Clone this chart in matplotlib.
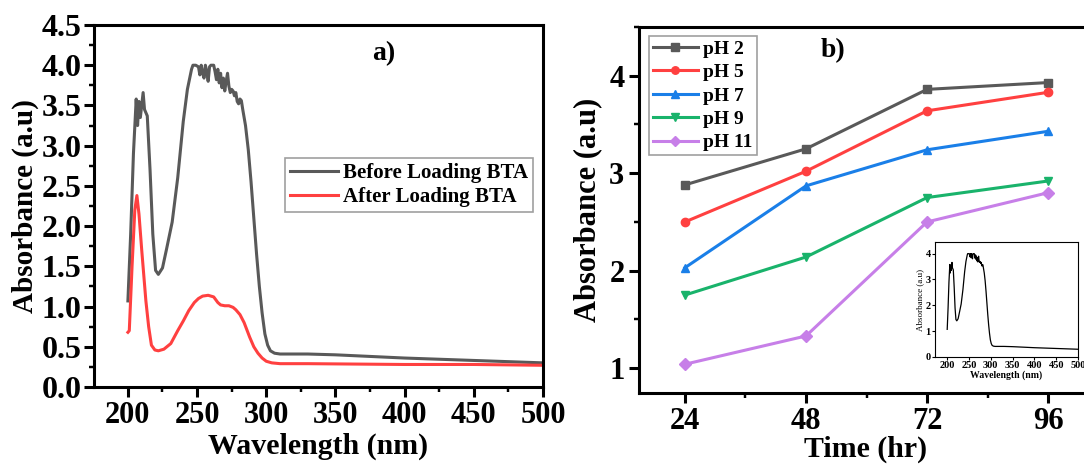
import matplotlib
matplotlib.use("Agg")
import matplotlib.pyplot as plt
from matplotlib.ticker import MultipleLocator

plt.rcParams['font.family'] = ['Liberation Serif', 'DejaVu Serif']
plt.rcParams['font.weight'] = 'bold'

# panel a) spectra
wl_before = [200, 202, 204, 206, 207, 208, 209, 211, 212, 213, 214, 216, 218, 220,
             222, 225, 228, 232, 236, 240, 243, 246, 247, 249, 251, 252, 253, 254,
             255, 256, 257, 258, 259, 260, 262, 263, 264, 265, 266, 267, 268, 269,
             270, 271, 272, 273, 274, 275, 276, 277, 278, 279, 280, 281, 282, 283,
             285, 287, 289, 291, 293, 295, 297, 299, 301, 303, 306, 310, 330, 350,
             400, 450, 500]
abs_before = [1.07, 1.9, 2.9, 3.58, 3.25, 3.55, 3.35, 3.66, 3.45, 3.41, 3.37, 2.7, 1.9, 1.45,
              1.40, 1.48, 1.72, 2.05, 2.6, 3.3, 3.7, 3.95, 4.0, 4.0, 3.98, 3.88, 4.0, 3.9,
              3.84, 4.0, 3.92, 3.80, 3.98, 4.0, 4.0, 3.92, 3.82, 3.95, 3.78, 3.9, 3.72, 3.84,
              3.68, 3.8, 3.9, 3.74, 3.66, 3.7, 3.68, 3.62, 3.66, 3.55, 3.52, 3.58, 3.56, 3.45,
              3.25, 2.95, 2.55, 2.1, 1.65, 1.25, 0.92, 0.66, 0.52, 0.45, 0.42, 0.41, 0.41, 0.40,
              0.36, 0.33, 0.30]

wl_after = [200, 201, 203, 205, 206.5, 208, 210, 213, 215, 217, 219.5, 222, 226, 231,
            236, 240, 244, 248, 251, 254, 258, 262, 265, 267, 270, 273, 276, 278,
            281, 284, 288, 291, 294, 297, 300, 304, 310, 330, 400, 450, 500]
abs_after = [0.68, 0.70, 1.5, 2.2, 2.38, 2.15, 1.7, 1.07, 0.75, 0.52, 0.46, 0.45, 0.47, 0.54,
             0.70, 0.82, 0.95, 1.05, 1.10, 1.13, 1.14, 1.12, 1.05, 1.02, 1.01, 1.01, 0.99, 0.96,
             0.90, 0.80, 0.62, 0.50, 0.42, 0.36, 0.32, 0.30, 0.29, 0.29, 0.28, 0.28, 0.27]

# panel b) absorbance vs time
time_hr = [24, 48, 72, 96]
ph_labels = ['pH 2', 'pH 5', 'pH 7', 'pH 9', 'pH 11']
ph2 = [2.88, 3.25, 3.86, 3.93]
ph5 = [2.50, 3.02, 3.64, 3.83]
ph7 = [2.03, 2.87, 3.24, 3.43]
ph9 = [1.75, 2.14, 2.75, 2.92]
ph11 = [1.04, 1.33, 2.50, 2.80]

W, H = 1084, 467
fig = plt.figure(figsize=(W / 100, H / 100), dpi=100)

def px(l, t, r, b):
    return [l / W, 1 - b / H, (r - l) / W, (b - t) / H]

def style(ax, lw=2.2, size=17, length=7):
    for s in ax.spines.values():
        s.set_linewidth(lw)
    ax.tick_params(which='major', direction='out', length=length, width=lw,
                   labelsize=size, top=False, right=False)
    ax.tick_params(which='minor', direction='out', length=length * 0.55, width=lw * 0.8,
                   top=False, right=False)
    for lab in ax.get_xticklabels() + ax.get_yticklabels():
        lab.set_fontweight('bold')

# ---- a)
ax1 = fig.add_axes(px(94, 25, 543, 387))
ax1.plot(wl_before, abs_before, color='#595959', lw=2.2, label='Before Loading BTA')
ax1.plot(wl_after, abs_after, color='#ff4040', lw=2.2, label='After Loading BTA')
ax1.set_xlim(175.5, 500)
ax1.set_ylim(0, 4.5)
ax1.xaxis.set_minor_locator(MultipleLocator(25))
ax1.yaxis.set_minor_locator(MultipleLocator(0.25))
ax1.set_xticks([200, 250, 300, 350, 400, 450, 500])
ax1.set_yticks([0.0, 0.5, 1.0, 1.5, 2.0, 2.5, 3.0, 3.5, 4.0, 4.5])
ax1.set_yticklabels([f'{v:.1f}' for v in ax1.get_yticks()])
style(ax1, size=22)
ax1.tick_params(axis='x', pad=3)
ax1.tick_params(axis='y', labelsize=23, pad=2)
ax1.set_xlabel('Wavelength (nm)', fontsize=21.5, fontweight='bold', labelpad=2)
ax1.set_ylabel('Absorbance (a.u)', fontsize=21, fontweight='bold', labelpad=2)
ax1.text(385, 4.15, 'a)', fontsize=20, fontweight='bold', ha='center', va='center')
leg1 = ax1.legend(loc='upper left', bbox_to_anchor=(0.425, 0.633), fontsize=15,
                  frameon=True, fancybox=False, edgecolor='#888888', handlelength=2.3,
                  borderpad=0.25, labelspacing=0.2, handletextpad=0.25, borderaxespad=0)
leg1.get_frame().set_linewidth(1.2)

# ---- b)
ax2 = fig.add_axes(px(639, 27, 1092, 393))
series = [ph2, ph5, ph7, ph9, ph11]
colors = ['#595959', '#ff4040', '#1a7fe8', '#19b36b', '#c77fe8']
markers = ['s', 'o', '^', 'v', 'D']
for vals, c, m, lab in zip(series, colors, markers, ph_labels):
    ax2.plot(time_hr, vals, color=c, marker=m, ms=6, lw=2.2, label=lab)
ax2.set_xlim(14.9, 104.7)
ax2.set_ylim(0.745, 4.5)
ax2.set_xticks(time_hr)
ax2.xaxis.set_minor_locator(MultipleLocator(12))
ax2.set_yticks([1, 2, 3, 4])
ax2.yaxis.set_minor_locator(MultipleLocator(0.5))
style(ax2, size=22)
ax2.tick_params(axis='x', pad=3)
ax2.set_xlabel('Time (hr)', fontsize=21.5, fontweight='bold', labelpad=0)
ax2.set_ylabel('Absorbance (a.u)', fontsize=22, fontweight='bold', labelpad=5)
ax2.text(53.4, 4.26, 'b)', fontsize=20, fontweight='bold', ha='center', va='center')
leg2 = ax2.legend(loc='upper left', bbox_to_anchor=(0.022, 0.975), fontsize=14,
                  frameon=True, fancybox=False, edgecolor='#888888', handlelength=2.3,
                  borderpad=0.2, labelspacing=0.3, handletextpad=0.3, borderaxespad=0,
                  markerscale=0.9)
leg2.get_frame().set_linewidth(1.2)

# ---- inset
ax3 = fig.add_axes(px(935, 242, 1078, 357))
ax3.plot(wl_before, abs_before, color='black', lw=0.9)
ax3.set_xlim(172, 500)
ax3.set_ylim(0, 4.45)
ax3.set_xticks([200, 250, 300, 350, 400, 450, 500])
ax3.set_yticks([0, 1, 2, 3, 4])
for s in ax3.spines.values():
    s.set_linewidth(0.8)
ax3.tick_params(direction='out', length=2, width=0.8, labelsize=7.5, pad=1,
                top=False, right=False)
for lab in ax3.get_xticklabels() + ax3.get_yticklabels():
    lab.set_fontweight('bold')
ax3.set_xlabel('Wavelength (nm)', fontsize=7, fontweight='bold', labelpad=0)
ax3.set_ylabel('Absorbance (a.u)', fontsize=6.5, fontweight='normal', labelpad=1)

fig.savefig('out.png', dpi=100)
